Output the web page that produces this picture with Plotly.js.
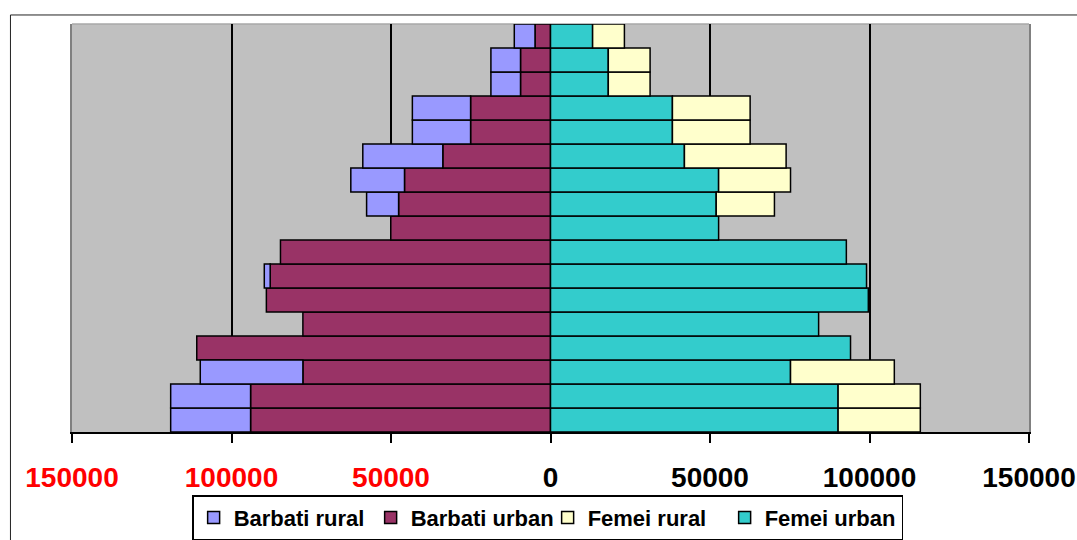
<!DOCTYPE html>
<html>
<head>
<meta charset="utf-8">
<script src="https://cdn.plot.ly/plotly-3.0.1.min.js"></script>
<style>html,body{margin:0;padding:0;background:#fff;}#chart{width:1077px;height:540px;}</style>
</head>
<body>
<div id="chart"></div>
<script>
// Age groups, bottom (youngest) to top (oldest)
const ageGroups = ['0-4','5-9','10-14','15-19','20-24','25-29','30-34','35-39','40-44','45-49','50-54','55-59','60-64','65-69','70-74','75-79','80+'];

// Values (bottom row first)
const barbatiUrban = [94020, 94020, 77620, 110890, 77620, 89070, 87870, 84650, 50070, 47620, 45770, 33760, 25050, 25050, 9400, 9400, 4860];
const barbatiRural = [25050, 25050, 32170, 0, 0, 0, 1850, 0, 0, 10030, 16830, 25080, 18250, 18250, 9280, 9280, 6490];
const femeiUrban   = [90160, 90160, 75240, 94050, 84050, 99630, 99070, 92740, 52700, 51950, 52700, 41980, 38220, 38220, 18120, 18120, 13200];
const femeiRural   = [25770, 25770, 32540, 0, 0, 0, 0, 0, 0, 18250, 22540, 31880, 24360, 24360, 13100, 13100, 9970];

const tickValues = [-150000, -100000, -50000, 0, 50000, 100000, 150000];
const tickLabels = ['150000', '100000', '50000', '0', '50000', '100000', '150000'];

const colors = {
  barbatiRural: '#9999FF',
  barbatiUrban: '#993366',
  femeiRural: '#FFFFCC',
  femeiUrban: '#33CCCC'
};

const lineStyle = {color: '#000000', width: 1.5};

function bar(name, values, sign, color, rank) {
  return {
    type: 'bar',
    orientation: 'h',
    name: name,
    y: ageGroups,
    x: values.map(v => v === 0 ? null : sign * v),
    marker: {color: color, line: lineStyle},
    legendrank: rank,
    hoverinfo: 'skip'
  };
}

const data = [
  bar('Barbati urban', barbatiUrban, -1, colors.barbatiUrban, 2),
  bar('Barbati rural', barbatiRural, -1, colors.barbatiRural, 1),
  bar('Femei urban', femeiUrban, 1, colors.femeiUrban, 4),
  bar('Femei rural', femeiRural, 1, colors.femeiRural, 3)
];

const ticktext = tickValues.map((v, i) =>
  v < 0 ? '<span style="color:#FF0000">' + tickLabels[i] + '</span>' : tickLabels[i]);

const layout = {
  width: 1077,
  height: 540,
  margin: {l: 72, r: 48, t: 24, b: 108, pad: 0, autoexpand: false},
  paper_bgcolor: '#FFFFFF',
  plot_bgcolor: '#C0C0C0',
  barmode: 'relative',
  bargap: 0,
  font: {family: '"Liberation Sans", Arial, sans-serif', color: '#000000'},
  showlegend: true,
  legend: {
    orientation: 'h',
    x: 0.497, xanchor: 'center',
    y: -0.155, yanchor: 'top',
    bgcolor: '#FFFFFF',
    bordercolor: '#000000',
    borderwidth: 1.5,
    font: {family: '"Liberation Sans", Arial, sans-serif', size: 22, weight: 'bold', color: '#000000'},
    traceorder: 'normal',
    entrywidth: 132,
    entrywidthmode: 'pixels',
    itemclick: false
  },
  xaxis: {
    range: [-150000, 150000],
    tickmode: 'array',
    tickvals: tickValues,
    ticktext: ticktext,
    tickfont: {family: '"Liberation Sans", Arial, sans-serif', size: 28, weight: 'bold', color: '#000000'},
    ticks: 'outside',
    ticklen: 9,
    tickwidth: 2,
    tickcolor: '#000000',
    ticklabelstandoff: 10,
    showline: true,
    linecolor: '#000000',
    linewidth: 2,
    showgrid: true,
    gridcolor: '#000000',
    gridwidth: 2,
    zeroline: false,
    fixedrange: true
  },
  yaxis: {
    type: 'category',
    categoryorder: 'array',
    categoryarray: ageGroups,
    showticklabels: false,
    ticks: '',
    showgrid: false,
    zeroline: false,
    showline: true,
    linecolor: '#808080',
    linewidth: 2,
    mirror: true,
    fixedrange: true
  },
  shapes: [
    {type: 'line', xref: 'paper', yref: 'paper', x0: 0, x1: 1, y0: 1, y1: 1,
     line: {color: '#A8A8A8', width: 1.5}, layer: 'below'},
    {type: 'rect', xref: 'paper', yref: 'paper', x0: -0.0643, x1: 1.2, y0: -0.6, y1: 1.0221,
     line: {color: '#222222', width: 1}, fillcolor: 'rgba(0,0,0,0)', layer: 'above'}
  ]
};

Plotly.newPlot('chart', data, layout, {displayModeBar: false, staticPlot: true});
</script>
</body>
</html>
